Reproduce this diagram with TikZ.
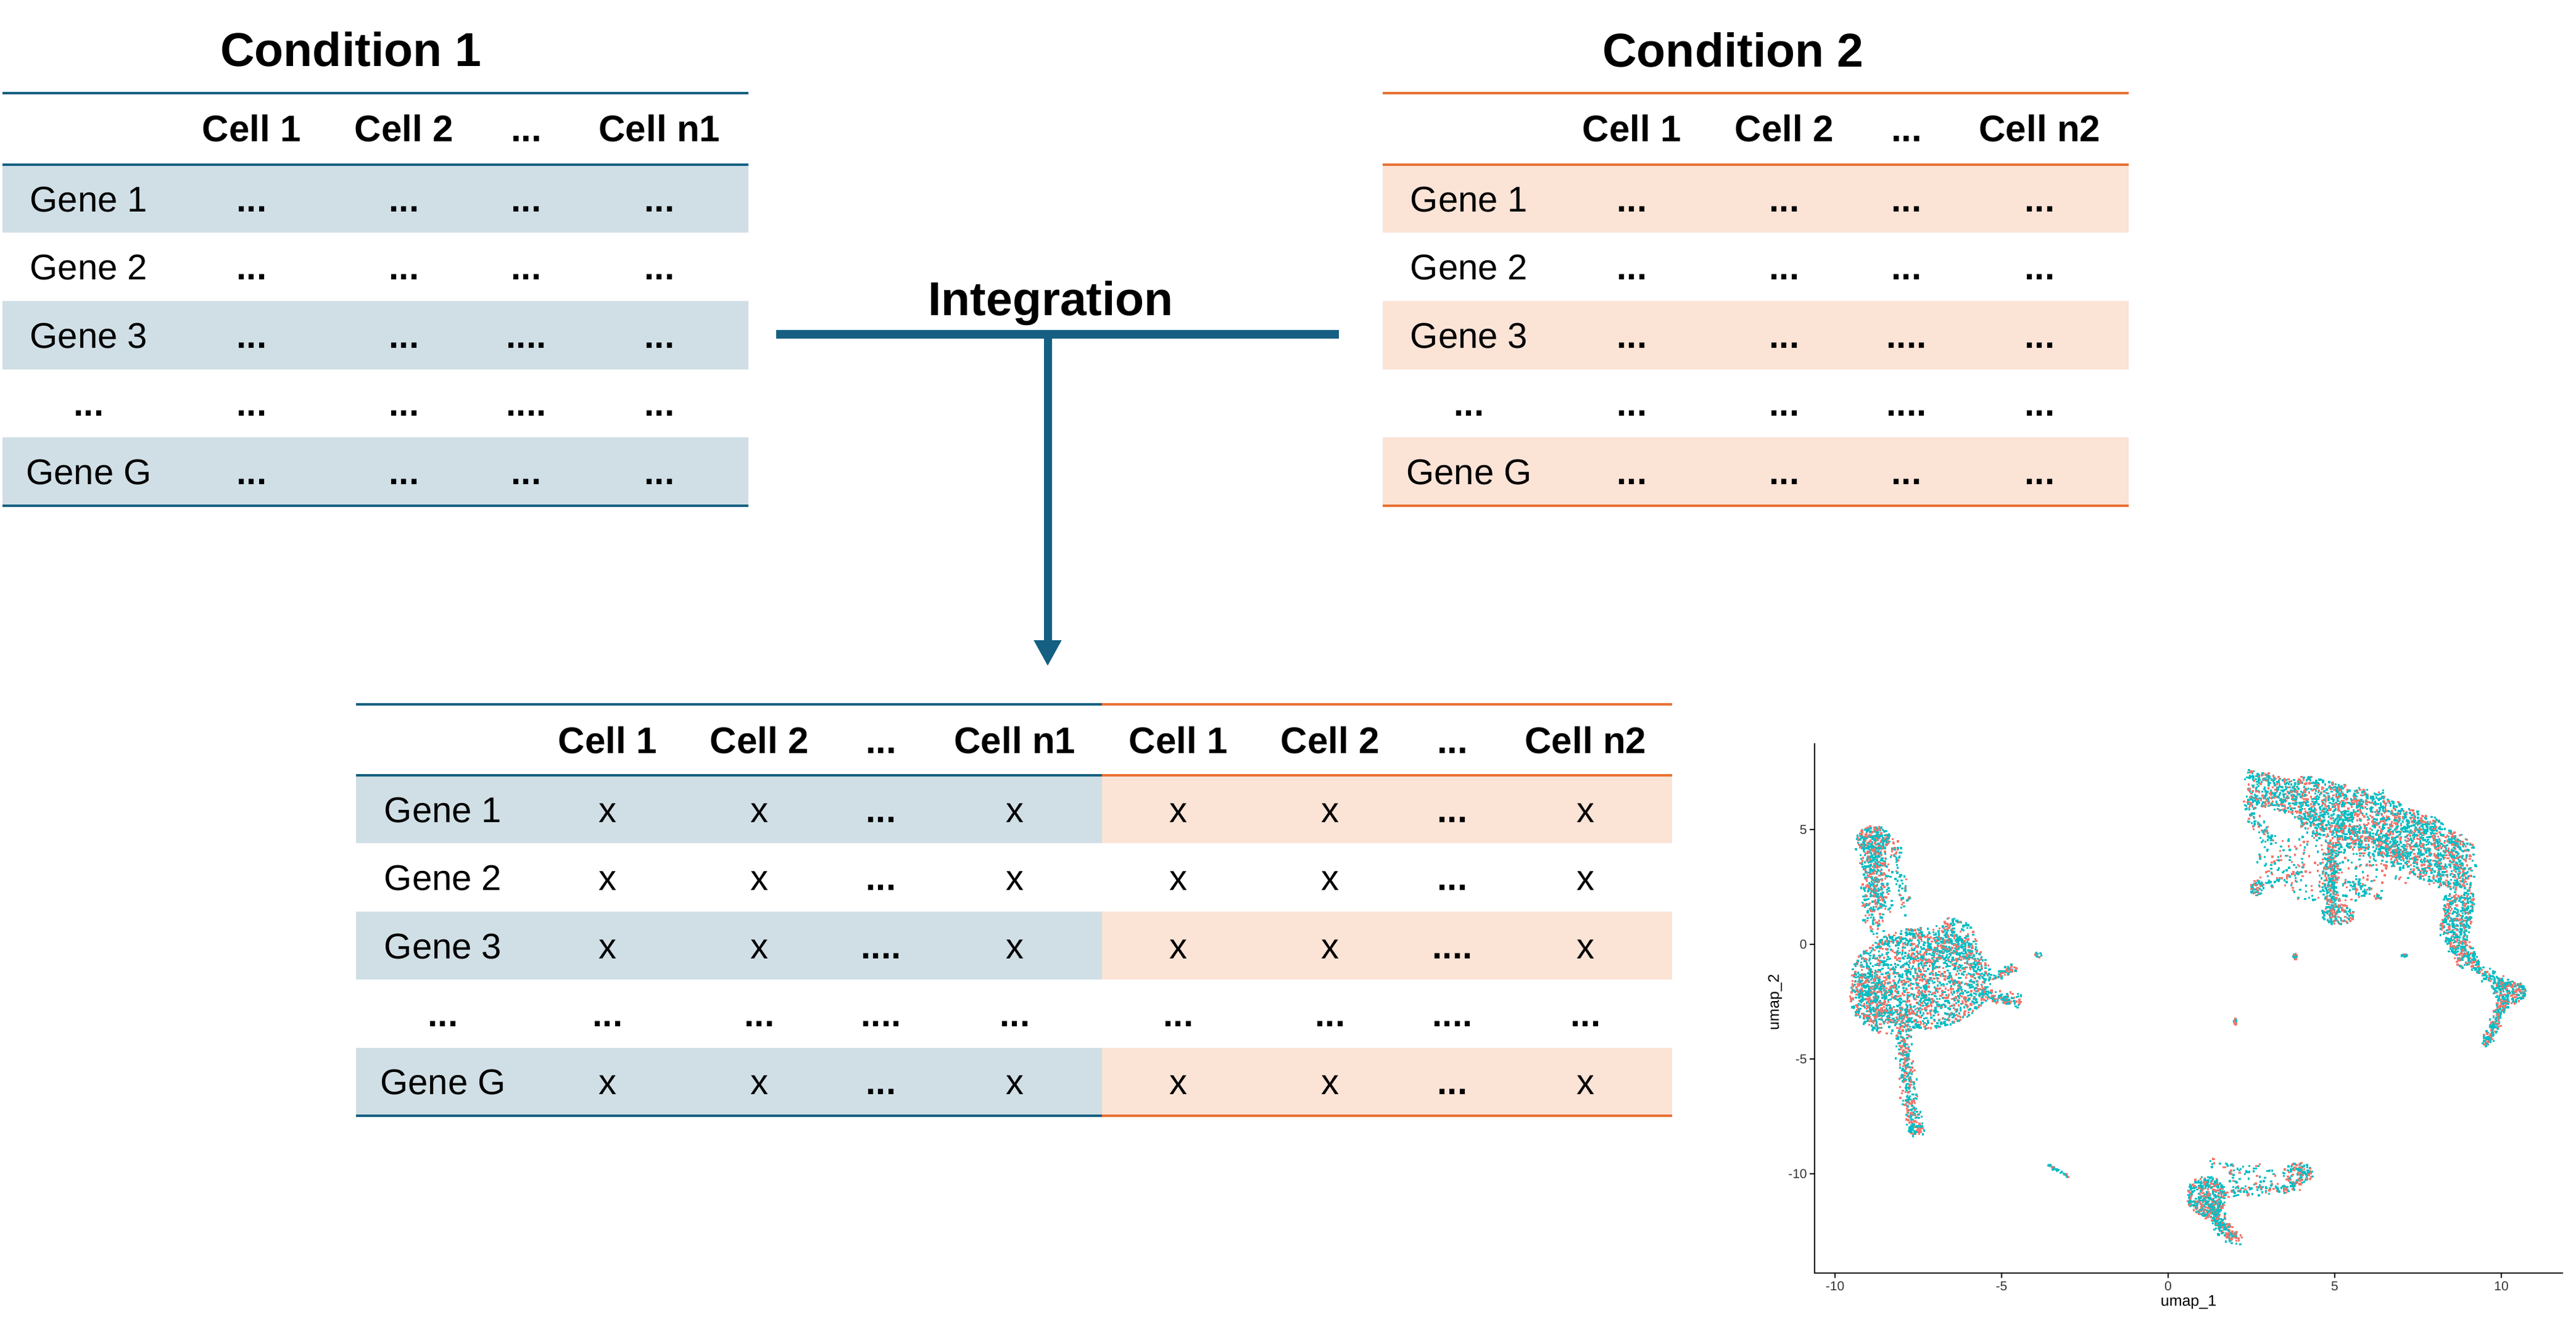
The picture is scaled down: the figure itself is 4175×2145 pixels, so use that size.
\documentclass[tikz,border=0pt]{standalone}
\usepackage{fontspec}
\setmainfont{Liberation Sans}
\usetikzlibrary{arrows.meta}
\definecolor{cblue}{HTML}{156082}
\definecolor{corange}{HTML}{E97132}
\definecolor{fblue}{HTML}{D0DFE6}
\definecolor{forange}{HTML}{FBE3D6}
\definecolor{ptred}{HTML}{F8766D}
\definecolor{ptteal}{HTML}{00BFC4}
\newcommand\ddd{{\bfseries...}}
\newcommand\dddd{{\bfseries....}}
\newcommand\dotdraw{\fill[\bcc] (\bpx,\bpy) ++(-0.85pt,-0.85pt) rectangle ++(1.7pt,1.7pt);}
% uniform points in an ellipse: cx cy rx ry N redfraction
\newcommand\ublob[6]{%
  \foreach \k in {1,...,#5}{%
    \pgfmathsetmacro\bxr{sqrt(rnd)}%
    \pgfmathsetmacro\ban{360*rnd}%
    \pgfmathsetmacro\bpx{#1+#3*\bxr*cos(\ban)}%
    \pgfmathsetmacro\bpy{#2+#4*\bxr*sin(\ban)}%
    \pgfmathsetmacro\bcol{rnd}%
    \ifdim\bcol pt<#6pt\relax\def\bcc{ptred}\else\def\bcc{ptteal}\fi
    \dotdraw
  }}
% points along a segment, triangular offsets: x1 y1 x2 y2 w h N redfraction
\newcommand\useg[8]{%
  \foreach \k in {1,...,#7}{%
    \pgfmathsetmacro\bt{rnd}%
    \pgfmathsetmacro\bpx{#1+(#3-(#1))*\bt+#5*(rnd+rnd-1)}%
    \pgfmathsetmacro\bpy{#2+(#4-(#2))*\bt+#6*(rnd+rnd-1)}%
    \pgfmathsetmacro\bcol{rnd}%
    \ifdim\bcol pt<#8pt\relax\def\bcc{ptred}\else\def\bcc{ptteal}\fi
    \dotdraw
  }}
% points along a segment, uniform offsets: x1 y1 x2 y2 w h N redfraction
\newcommand\bseg[8]{%
  \foreach \k in {1,...,#7}{%
    \pgfmathsetmacro\bt{rnd}%
    \pgfmathsetmacro\bpx{#1+(#3-(#1))*\bt+#5*(2*rnd-1)}%
    \pgfmathsetmacro\bpy{#2+(#4-(#2))*\bt+#6*(2*rnd-1)}%
    \pgfmathsetmacro\bcol{rnd}%
    \ifdim\bcol pt<#8pt\relax\def\bcc{ptred}\else\def\bcc{ptteal}\fi
    \dotdraw
  }}
\begin{document}
\begin{tikzpicture}[x=0.5pt,y=-0.5pt,
  ttl/.style={font=\fontsize{38.5pt}{46pt}\selectfont\bfseries, inner sep=0pt, text height=27.6pt, text depth=0pt},
  rt/.style={font=\fontsize{29pt}{34pt}\selectfont, inner sep=0pt, text height=21pt, text depth=0pt},
  hd/.style={font=\fontsize{30pt}{36pt}\selectfont\bfseries, inner sep=0pt, text height=21.5pt, text depth=0pt},
  rule/.style={line width=2pt},
  bar/.style={cblue, line width=7pt},
  arr/.style={cblue, line width=6.5pt, -{Triangle[width=21pt,length=21pt]}},
  axl/.style={black, line width=0.8pt},
  tkl/.style={font=\fontsize{10.5pt}{12pt}\selectfont, text=black!80, inner sep=0pt},
  axt/.style={font=\fontsize{12.5pt}{14pt}\selectfont, text=black, inner sep=0pt}]
\useasboundingbox (0,0) rectangle (4175,2145);
\fill[white] (0,0) rectangle (4175,2145);

% ---------- Condition tables ----------
\newcommand\condtable[5]{%
  \foreach \yy in {267,488,709} \fill[#3] (#1,\yy) rectangle ++(1209,110.5);
  \foreach \yy in {151,267,819.5} \draw[#2,rule] (#1,\yy) -- ++(1209,0);
  \foreach \h/\xo [count=\c] in {Cell 1/404,Cell 2/651,\ddd/849,#5/1065}
    \node[hd] (#4h\c) at (#1+\xo,208) {\h};
  \foreach \lab/\third [count=\r] in {Gene 1/\ddd,Gene 2/\ddd,Gene 3/\dddd,\ddd/\dddd,Gene G/\ddd}{%
    \pgfmathsetmacro\yy{322.25+110.5*(\r-1)}
    \node[rt] (#4r\r-l) at (#1+140,\yy) {\lab};
    \node[rt] (#4r\r-c1) at (#1+404,\yy) {\ddd};
    \node[rt] (#4r\r-c2) at (#1+651,\yy) {\ddd};
    \node[rt] (#4r\r-c3) at (#1+849,\yy) {\third};
    \node[rt] (#4r\r-c4) at (#1+1065,\yy) {\ddd};
  }}
\condtable{4}{cblue}{fblue}{a}{Cell n1}
\condtable{2241}{corange}{forange}{b}{Cell n2}
\node[ttl] (cond1) at (569,80) {Condition 1};
\node[ttl] (cond2) at (2809,81) {Condition 2};

% ---------- Integration ----------
\node[ttl] (integ) at (1703,484) {Integration};
\coordinate (barL) at (1258,542);
\coordinate (barR) at (2170,542);
\coordinate (barM) at (1698,542);
\coordinate (tip) at (1698,1080);
\draw[bar] (barL) -- (barR);
\draw[arr] (barM) -- (tip);

% ---------- Merged table ----------
\foreach \yy in {1257,1477.8,1698.6}{%
  \fill[fblue] (577,\yy) rectangle (1786,\yy+110.4);
  \fill[forange] (1786,\yy) rectangle (2710,\yy+110.4);}
\foreach \yy in {1142,1257,1809}{%
  \draw[cblue,rule] (577,\yy) -- (1786,\yy);
  \draw[corange,rule] (1786,\yy) -- (2710,\yy);}
\foreach \h/\xo [count=\c] in {Cell 1/985,Cell 2/1231,\ddd/1428,Cell n1/1645,Cell 1/1910,Cell 2/2156,\ddd/2354,Cell n2/2570}
  \node[hd] (mh\c) at (\xo,1199.5) {\h};
\foreach \lab/\a/\b [count=\r] in {Gene 1/x/\ddd,Gene 2/x/\ddd,Gene 3/x/\dddd,\ddd/\ddd/\dddd,Gene G/x/\ddd}{%
  \pgfmathsetmacro\yy{1312.2+110.4*(\r-1)}
  \node[rt] (mr\r-l) at (718,\yy) {\lab};
  \node[rt] (mr\r-c1) at (985,\yy) {\a};
  \node[rt] (mr\r-c2) at (1231,\yy) {\a};
  \node[rt] (mr\r-c3) at (1428,\yy) {\b};
  \node[rt] (mr\r-c4) at (1645,\yy) {\a};
  \node[rt] (mr\r-c5) at (1910,\yy) {\a};
  \node[rt] (mr\r-c6) at (2156,\yy) {\a};
  \node[rt] (mr\r-c7) at (2354,\yy) {\b};
  \node[rt] (mr\r-c8) at (2570,\yy) {\a};
}

% ---------- UMAP plot ----------
\coordinate (po) at (3514,1531);
\begin{scope}[shift={(po)}, x=27pt, y=18.6pt]
\pgfmathsetseed{11}
% top-right arc: sparse interior
\ublob{5.0}{3.4}{2.4}{1.6}{320}{0.35}
\useg{2.3}{6.2}{3.1}{4.4}{0.25}{0.3}{80}{0.35}
% dense band
\bseg{2.4}{6.9}{3.8}{6.4}{0.12}{0.75}{330}{0.38}
\bseg{3.8}{6.4}{5.0}{6.0}{0.12}{1.05}{340}{0.35}
\bseg{5.0}{6.0}{6.24}{5.6}{0.12}{1.05}{380}{0.35}
\bseg{6.24}{5.6}{7.26}{4.55}{0.15}{1.2}{400}{0.35}
\bseg{7.26}{4.55}{8.28}{3.8}{0.15}{1.45}{460}{0.38}
\bseg{8.28}{3.8}{9.0}{3.3}{0.25}{1.2}{320}{0.38}
\useg{4.0}{5.3}{7.0}{3.8}{0.4}{0.7}{250}{0.35}
% right arm
\bseg{8.75}{2.2}{8.6}{0.5}{0.45}{0.2}{300}{0.35}
\bseg{8.6}{0.5}{9.0}{-0.9}{0.35}{0.2}{220}{0.35}
\useg{9.2}{-1.0}{10.2}{-1.9}{0.25}{0.35}{100}{0.3}
\ublob{10.25}{-2.1}{0.5}{0.5}{190}{0.3}
\useg{10.1}{-2.5}{9.55}{-4.35}{0.2}{0.3}{170}{0.3}
% interior branches
\useg{4.9}{4.3}{4.9}{1.3}{0.3}{0.3}{260}{0.35}
\ublob{5.1}{1.3}{0.5}{0.45}{110}{0.4}
\useg{5.3}{2.7}{6.4}{2.0}{0.15}{0.25}{50}{0.3}
\ublob{2.67}{2.45}{0.2}{0.35}{50}{0.3}
\useg{2.95}{2.65}{4.0}{3.2}{0.08}{0.12}{30}{0.3}
% left cluster
\ublob{-8.85}{4.6}{0.5}{0.55}{220}{0.4}
\useg{-8.9}{4.3}{-8.7}{1.6}{0.5}{0.45}{380}{0.35}
\useg{-8.2}{4.5}{-7.9}{1.5}{0.25}{0.4}{70}{0.35}
\useg{-9.0}{1.8}{-8.7}{0.5}{0.4}{0.4}{60}{0.35}
\ublob{-7.4}{-1.5}{2.1}{2.2}{1800}{0.35}
\ublob{-6.5}{0.2}{0.75}{0.95}{220}{0.35}
\ublob{-9.0}{-2.3}{0.55}{1.1}{220}{0.4}
\ublob{-8.3}{-3.3}{0.9}{0.6}{150}{0.4}
\useg{-5.6}{-2.2}{-4.5}{-2.5}{0.25}{0.35}{120}{0.45}
\useg{-5.3}{-1.5}{-4.6}{-1.0}{0.15}{0.2}{50}{0.4}
\useg{-8.0}{-3.8}{-7.6}{-8.2}{0.3}{0.3}{300}{0.4}
\ublob{-7.55}{-8.1}{0.25}{0.3}{45}{0.3}
\ublob{-3.9}{-0.45}{0.1}{0.12}{12}{0.3}
\useg{-3.6}{-9.6}{-3.0}{-10.15}{0.05}{0.05}{35}{0.2}
% bottom cluster
\ublob{1.15}{-11.0}{0.6}{0.9}{380}{0.35}
\useg{1.2}{-11.5}{2.0}{-12.9}{0.3}{0.35}{220}{0.4}
\useg{1.5}{-10.8}{3.9}{-10.6}{0.15}{0.3}{110}{0.35}
\ublob{3.9}{-10.0}{0.45}{0.5}{120}{0.45}
\ublob{2.5}{-10.0}{0.8}{0.6}{50}{0.35}
\ublob{1.5}{-9.6}{0.3}{0.3}{12}{0.3}
% small spots
\ublob{2.04}{-3.38}{0.07}{0.15}{12}{0.3}
\ublob{3.83}{-0.55}{0.08}{0.15}{14}{0.3}
\ublob{7.1}{-0.5}{0.12}{0.07}{12}{0.3}
\end{scope}

\coordinate (ytop) at (2941,1205);
\coordinate (orig) at (2941,2064);
\coordinate (xend) at (4154,2064);
\draw[axl] (ytop) -- (orig) -- (xend);
\foreach \k in {-10,-5,0,5,10}{%
  \draw[axl] (3514+54*\k,2064) -- ++(0,8);
  \node[tkl] (xl\k) at (3514+54*\k,2085) {\k};}
\foreach \k in {5,0,-5,-10}{%
  \draw[axl] (2941,1531-37.2*\k) -- ++(-8,0);
  \node[tkl, anchor=east] (yl\k) at (2929,1531-37.2*\k) {\k};}
\node[axt] (xt) at (3547,2111) {umap\_1};
\node[axt, rotate=90] (yt) at (2877,1625) {umap\_2};
\end{tikzpicture}
\end{document}
